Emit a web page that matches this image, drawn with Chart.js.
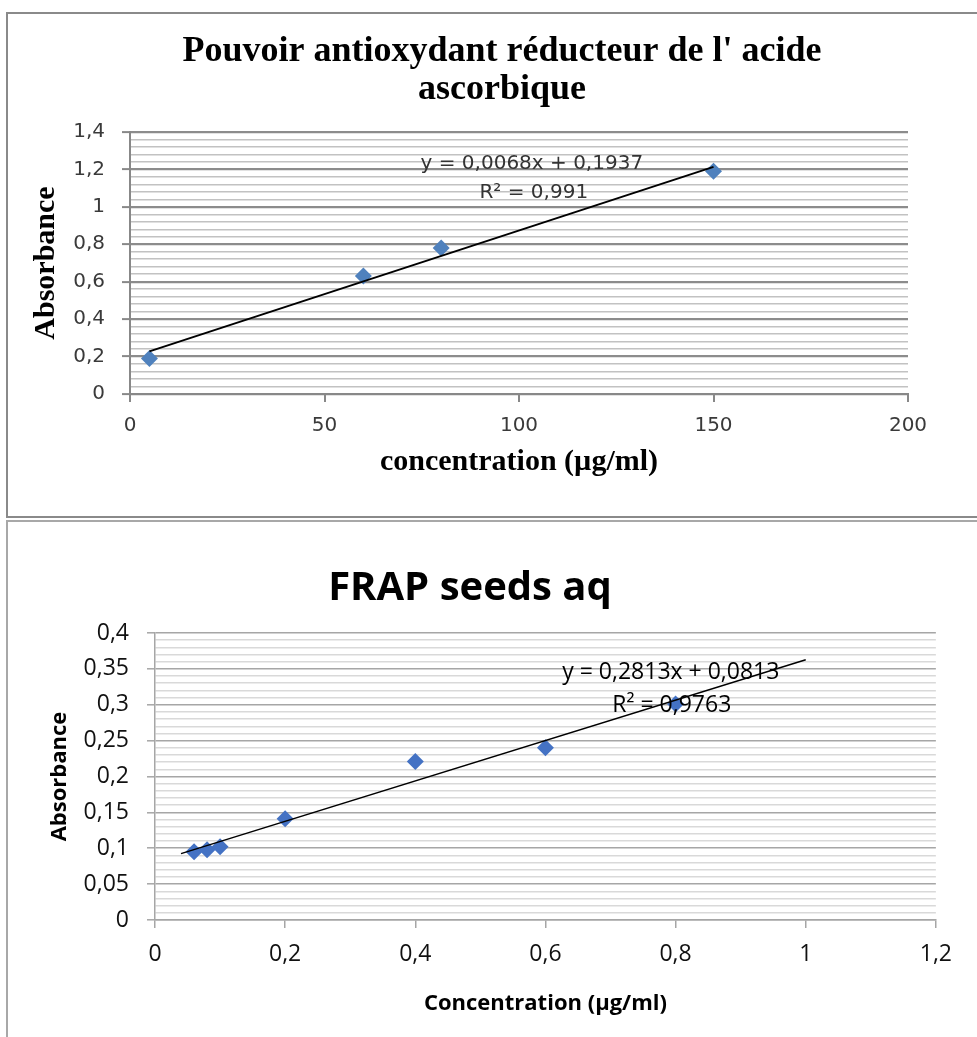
<!DOCTYPE html>
<html>
<head>
<meta charset="utf-8">
<script src="https://cdn.jsdelivr.net/npm/chart.js@4.4.1/dist/chart.umd.min.js"></script>
<style>
html,body{margin:0;padding:0;background:#fff;}
body{width:977px;height:1037px;overflow:hidden;position:relative;}
.box{position:absolute;box-sizing:border-box;}
#box1{left:6px;top:12px;width:1000px;height:506px;border:2px solid #8a8a8a;}
#box2{left:6px;top:520px;width:1000px;height:600px;border:2px solid #a8a8a8;}
canvas{position:absolute;}
#c1{left:7px;top:14px;}
#c2{left:-25px;top:523px;}
</style>
</head>
<body>
<div class="box" id="box1"></div>
<div class="box" id="box2"></div>
<canvas id="c1" width="990" height="501"></canvas>
<canvas id="c2" width="990" height="514"></canvas>
<script>
// ---------- Chart 1 : Pouvoir antioxydant réducteur de l'acide ascorbique ----------
const topConcentration = [5, 60, 80, 150];
const topAbsorbance = [0.19, 0.63, 0.78, 1.19];
const topSlope = 0.0068;
const topIntercept = 0.1937;
const topTrendRange = [5, 150];
const topXTicks = [0, 50, 100, 150, 200];
const topXLabels = ['0', '50', '100', '150', '200'];
const topYTicks = [0, 0.2, 0.4, 0.6, 0.8, 1, 1.2, 1.4];
const topYLabels = ['0', '0,2', '0,4', '0,6', '0,8', '1', '1,2', '1,4'];
const topYMinorStep = 0.04;
const topEquation = ['y = 0,0068x + 0,1937', 'R\u00B2 = 0,991'];
const topTitle = ["Pouvoir antioxydant réducteur de l' acide", 'ascorbique'];

// ---------- Chart 2 : FRAP seeds aq ----------
const botConcentration = [0.06, 0.08, 0.1, 0.2, 0.4, 0.6, 0.8];
const botAbsorbance = [0.095, 0.098, 0.102, 0.141, 0.221, 0.240, 0.301];
const botSlope = 0.2813;
const botIntercept = 0.0813;
const botTrendRange = [0.04, 1.0];
const botXTicks = [0, 0.2, 0.4, 0.6, 0.8, 1, 1.2];
const botXLabels = ['0', '0,2', '0,4', '0,6', '0,8', '1', '1,2'];
const botYTicks = [0, 0.05, 0.1, 0.15, 0.2, 0.25, 0.3, 0.35, 0.4];
const botYLabels = ['0', '0,05', '0,1', '0,15', '0,2', '0,25', '0,3', '0,35', '0,4'];
const botYMinorStep = 0.01;
const botEquation = ['y = 0,2813x + 0,0813', 'R\u00B2 = 0,9763'];
const botTitle = 'FRAP seeds aq';

function eqPlugin(items, font, color) {
  return {
    id: 'eqLabels',
    afterDatasetsDraw(chart) {
      const {ctx, scales} = chart;
      ctx.save();
      ctx.font = font;
      ctx.fillStyle = color;
      ctx.textAlign = 'center';
      ctx.textBaseline = 'middle';
      items.forEach(it => {
        ctx.fillText(it.text, scales.x.getPixelForValue(it.x), scales.y.getPixelForValue(it.y));
      });
      ctx.restore();
    }
  };
}

function buildChart(id, c) {
  const near = (a, b) => Math.abs(a - b) < 1e-6;
  const isMajor = v => c.yTicks.some(m => near(m, v));
  const yAll = [];
  const n = Math.round(c.yMax / c.yMinor);
  for (let i = 0; i <= n; i++) yAll.push(+(i * c.yMinor).toFixed(6));
  const trendPts = c.trendRange.map(x => ({x: x, y: c.slope * x + c.intercept}));
  const pts = c.xs.map((x, i) => ({x: x, y: c.ys[i]}));

  return new Chart(document.getElementById(id), {
    type: 'scatter',
    data: {
      datasets: [
        {data: trendPts, showLine: true, borderColor: '#000', borderWidth: c.trendWidth,
         pointRadius: 0, order: 0, xAxisID: 'x', yAxisID: 'y'},
        {data: pts, pointStyle: 'rectRot', pointRadius: c.markerR, pointBackgroundColor: c.markerColor,
         pointBorderColor: c.markerColor, pointBorderWidth: 0, showLine: false, order: 1, xAxisID: 'x', yAxisID: 'y'}
      ]
    },
    options: {
      responsive: false,
      animation: false,
      events: [],
      layout: {padding: 0},
      plugins: {
        legend: {display: false},
        tooltip: {enabled: false},
        title: {display: true, text: c.title, font: c.titleFont, color: '#000', padding: c.titlePad}
      },
      scales: {
        x: {
          type: 'linear', position: 'bottom', min: c.xMin, max: c.xMax,
          afterBuildTicks: s => { s.ticks = c.xTicks.map(v => ({value: v})); },
          afterFit: s => { s.height = c.xAxisH; },
          grid: {display: true, drawOnChartArea: false, drawTicks: true, tickLength: 8,
                 color: c.axisColor, lineWidth: c.axisW, tickColor: c.axisColor, tickWidth: c.axisW},
          border: {display: true, color: c.axisColor, width: c.axisW},
          ticks: {
            autoSkip: false, maxRotation: 0, minRotation: 0,
            padding: c.xTickPad, font: c.tickFont, color: c.tickColor,
            callback: v => { const i = c.xTicks.findIndex(m => near(m, v)); return i >= 0 ? c.xLabels[i] : ''; }
          },
          title: {display: true, text: c.xTitle, font: c.xTitleFont, color: '#000',
                  padding: {top: 0, bottom: c.xTitlePadB}}
        },
        y: {
          type: 'linear', position: 'left', min: 0, max: c.yMax,
          afterBuildTicks: s => { s.ticks = yAll.map(v => ({value: v})); },
          afterFit: s => { s.width = c.yAxisW; },
          grid: {
            display: true, drawOnChartArea: true, drawTicks: true, tickLength: 8,
            color: ctx => (ctx.tick && isMajor(ctx.tick.value)) ? c.majorColor : c.minorColor,
            lineWidth: ctx => (ctx.tick && isMajor(ctx.tick.value)) ? c.majorW : c.minorW,
            tickColor: ctx => (ctx.tick && isMajor(ctx.tick.value)) ? c.axisColor : 'rgba(0,0,0,0)',
            tickWidth: c.axisW
          },
          border: {display: true, color: c.axisColor, width: c.axisW},
          ticks: {
            autoSkip: false, padding: c.yTickPad, font: c.tickFont, color: c.tickColor,
            callback: v => { const i = c.yTicks.findIndex(m => near(m, v)); return i >= 0 ? c.yLabels[i] : ''; }
          },
          title: {display: true, text: c.yTitle, font: c.yTitleFont, color: '#000',
                  padding: {top: c.yTitlePadT, bottom: 0}}
        },
        pad: {
          type: 'linear', position: 'right', display: true,
          grid: {display: false}, ticks: {display: false}, border: {display: false},
          afterFit: s => { s.width = c.padR; }
        }
      }
    },
    plugins: [eqPlugin(c.eqItems, c.eqFont, c.eqColor)]
  });
}

buildChart('c1', {
  xs: topConcentration, ys: topAbsorbance,
  slope: topSlope, intercept: topIntercept, trendRange: topTrendRange, trendWidth: 2,
  markerR: 8.5, markerColor: '#4F81BD',
  xMin: 0, xMax: 200, xTicks: topXTicks, xLabels: topXLabels,
  yMax: 1.4, yTicks: topYTicks, yLabels: topYLabels, yMinor: topYMinorStep,
  title: topTitle,
  titleFont: {family: '"Liberation Serif", "Times New Roman", serif', size: 36, weight: 'bold', lineHeight: 38 / 36},
  titlePad: {top: 19, bottom: 23},
  xTitle: 'concentration (\u00B5g/ml)',
  xTitleFont: {family: '"Liberation Serif", "Times New Roman", serif', size: 30, weight: 'bold', lineHeight: 1.2},
  xTitlePadB: 35,
  yTitle: 'Absorbance',
  yTitleFont: {family: '"Liberation Serif", "Times New Roman", serif', size: 30, weight: 'bold', lineHeight: 1.2},
  yTitlePadT: 21,
  tickFont: {family: '"DejaVu Sans", sans-serif', size: 20, lineHeight: 1.2},
  tickColor: '#3a3a3a',
  xTickPad: 12, yTickPad: 17,
  xAxisH: 121, yAxisW: 123, padR: 89,
  axisColor: '#888888', axisW: 2,
  majorColor: '#8c8c8c', majorW: 2.2, minorColor: '#c2c2c2', minorW: 1.6,
  eqItems: [
    {text: topEquation[0], x: 103.3, y: 1.229},
    {text: topEquation[1], x: 103.8, y: 1.074}
  ],
  eqFont: '20px "DejaVu Sans", sans-serif', eqColor: '#333'
});

buildChart('c2', {
  xs: botConcentration, ys: botAbsorbance,
  slope: botSlope, intercept: botIntercept, trendRange: botTrendRange, trendWidth: 1.5,
  markerR: 8.5, markerColor: '#4472C4',
  xMin: 0, xMax: 1.2, xTicks: botXTicks, xLabels: botXLabels,
  yMax: 0.4, yTicks: botYTicks, yLabels: botYLabels, yMinor: botYMinorStep,
  title: botTitle,
  titleFont: {family: '"Open Sans", "Noto Sans", sans-serif', size: 40, weight: 'bold', lineHeight: 1.2},
  titlePad: {top: 42, bottom: 20},
  xTitle: 'Concentration (\u00B5g/ml)',
  xTitleFont: {family: '"Open Sans", "Noto Sans", sans-serif', size: 22, weight: 'bold', lineHeight: 1.2},
  xTitlePadB: 19.8,
  yTitle: 'Absorbance',
  yTitleFont: {family: '"Open Sans", "Noto Sans", sans-serif', size: 22, weight: 'bold', lineHeight: 1.2},
  yTitlePadT: 71.8,
  tickFont: {family: '"Open Sans", "Noto Sans", sans-serif', size: 23, lineHeight: 1.2},
  tickColor: '#111',
  xTickPad: 13, yTickPad: 18,
  xAxisH: 117, yAxisW: 180, padR: 19,
  axisColor: '#a6a6a6', axisW: 1.5,
  majorColor: '#a6a6a6', majorW: 1.6, minorColor: '#d9d9d9', minorW: 1.5,
  eqItems: [
    {text: botEquation[0], x: 0.7927, y: 0.3448},
    {text: botEquation[1], x: 0.7942, y: 0.2997}
  ],
  eqFont: '23px "Open Sans", "Noto Sans", sans-serif', eqColor: '#000'
});
</script>
</body>
</html>
